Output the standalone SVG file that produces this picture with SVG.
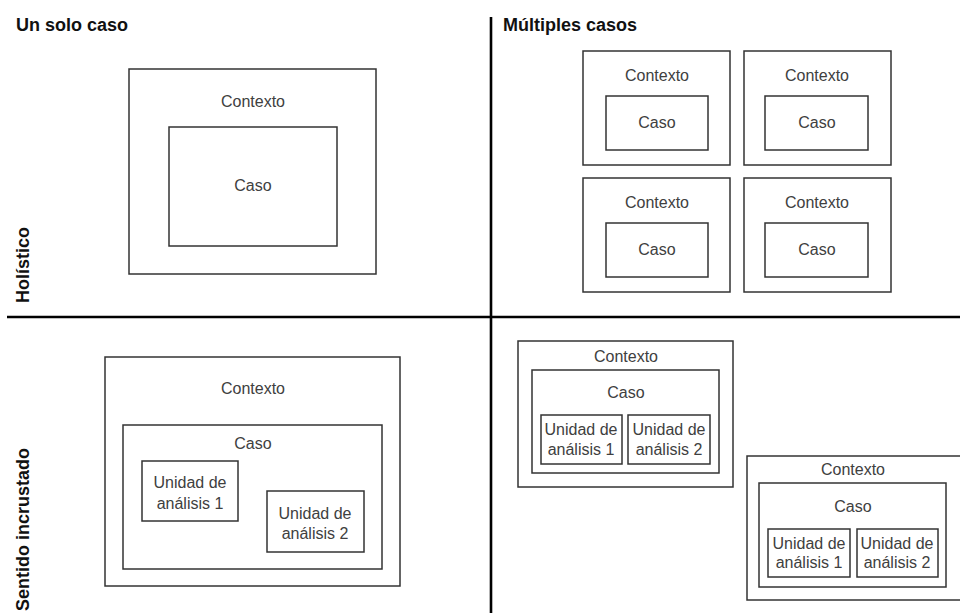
<svg xmlns="http://www.w3.org/2000/svg" width="960" height="613" viewBox="0 0 960 613">
<style>
.b{fill:#fff;stroke:#333;stroke-width:1.5}
.t{font-family:"Liberation Sans",Arial,sans-serif;font-size:16px;fill:#404040;text-anchor:middle}
.h{font-family:"Liberation Sans",Arial,sans-serif;font-size:18px;font-weight:bold;fill:#111}
.ax{stroke:#000;stroke-width:2.6;fill:none}
</style>
<rect width="960" height="613" fill="#fff"/>
<g id="axes">
<line class="ax" x1="491" y1="17" x2="491" y2="613"/>
<line class="ax" x1="7" y1="317" x2="960" y2="317"/>
</g>
<g id="labels">
<text class="h" x="16" y="31">Un solo caso</text>
<text class="h" x="503" y="31">Múltiples casos</text>
<text class="h" transform="translate(29,303) rotate(-90)">Holístico</text>
<text class="h" transform="translate(29,611) rotate(-90)">Sentido incrustado</text>
</g>
<g id="single-holistic">
<rect class="b" x="129" y="69" width="247" height="205"/>
<text class="t" x="253" y="107">Contexto</text>
<rect class="b" x="169" y="127" width="168" height="119"/>
<text class="t" x="253" y="191">Caso</text>
</g>
<g id="multi-holistic-1">
<rect class="b" x="583" y="51" width="147" height="114"/>
<text class="t" x="657" y="81">Contexto</text>
<rect class="b" x="606" y="96" width="102" height="54"/>
<text class="t" x="657" y="128">Caso</text>
</g>
<g id="multi-holistic-2">
<rect class="b" x="744" y="51" width="147" height="114"/>
<text class="t" x="817" y="81">Contexto</text>
<rect class="b" x="765" y="96" width="103" height="54"/>
<text class="t" x="817" y="128">Caso</text>
</g>
<g id="multi-holistic-3">
<rect class="b" x="583" y="178" width="147" height="114"/>
<text class="t" x="657" y="208">Contexto</text>
<rect class="b" x="606" y="223" width="102" height="54"/>
<text class="t" x="657" y="255">Caso</text>
</g>
<g id="multi-holistic-4">
<rect class="b" x="744" y="178" width="147" height="114"/>
<text class="t" x="817" y="208">Contexto</text>
<rect class="b" x="765" y="223" width="103" height="54"/>
<text class="t" x="817" y="255">Caso</text>
</g>
<g id="single-embedded">
<rect class="b" x="105" y="357" width="295" height="229"/>
<text class="t" x="253" y="394">Contexto</text>
<rect class="b" x="123" y="425" width="259" height="144"/>
<text class="t" x="253" y="449">Caso</text>
<rect class="b" x="142" y="461" width="96" height="60"/>
<text class="t" x="190" y="488">Unidad de</text>
<text class="t" x="190" y="509">análisis 1</text>
<rect class="b" x="267" y="491" width="97" height="61"/>
<text class="t" x="315" y="519">Unidad de</text>
<text class="t" x="315" y="539">análisis 2</text>
</g>
<g id="multi-embedded-1">
<rect class="b" x="518" y="341" width="215" height="146"/>
<text class="t" x="626" y="362">Contexto</text>
<rect class="b" x="532" y="370" width="187" height="103"/>
<text class="t" x="626" y="398">Caso</text>
<rect class="b" x="541" y="415" width="81" height="49"/>
<text class="t" x="581" y="435">Unidad de</text>
<text class="t" x="581" y="455">análisis 1</text>
<rect class="b" x="628" y="415" width="82" height="49"/>
<text class="t" x="669" y="435">Unidad de</text>
<text class="t" x="669" y="455">análisis 2</text>
</g>
<g id="multi-embedded-2">
<rect class="b" x="747" y="456" width="220" height="144"/>
<text class="t" x="853" y="475">Contexto</text>
<rect class="b" x="759" y="483" width="187" height="104"/>
<text class="t" x="853" y="512">Caso</text>
<rect class="b" x="768" y="529" width="82" height="48"/>
<text class="t" x="809" y="549">Unidad de</text>
<text class="t" x="809" y="568">análisis 1</text>
<rect class="b" x="857" y="529" width="81" height="48"/>
<text class="t" x="897" y="549">Unidad de</text>
<text class="t" x="897" y="568">análisis 2</text>
</g>
</svg>
